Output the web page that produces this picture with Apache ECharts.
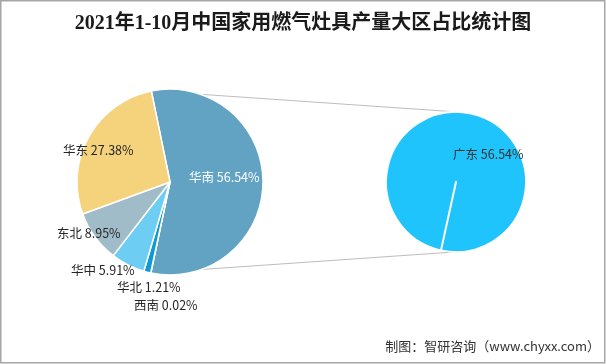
<!DOCTYPE html>
<html>
<head>
<meta charset="utf-8">
<script src="https://cdn.jsdelivr.net/npm/echarts@6/dist/echarts.min.js"></script>
<style>
html,body{margin:0;padding:0;background:#fff;}
#chart{width:606px;height:364px;}
</style>
</head>
<body>
<div id="chart"></div>
<script>
// ---- data ----
var titleText = '2021年1-10月中国家用燃气灶具产量大区占比统计图';
var sourceText = '制图：智研咨询（www.chyxx.com）';
var regionNames = ['华南', '西南', '华北', '华中', '东北', '华东'];
var regionValues = [56.54, 0.02, 1.21, 5.91, 8.95, 27.38];
var subNames = ['广东', '其他'];
var subValues = [56.54, 0];

// ---- styles / layout ----
var regionColors = ['#62a3c4', '#1f7fb8', '#0e9ad6', '#6dcdf2', '#a1bcc9', '#f5d27c'];
var subColors = ['#20c4fd', '#20c4fd'];
var leftCenter = [170, 182], leftR = 93;
var rightCenter = [456, 182], rightR = 70;
var leftStart = 101.6;
var rightStart = 257.6;
// label anchor points (left-aligned, vertically centred)
var leftLabelPos = [[189, 177], [134, 305], [117, 287], [71, 270], [57, 233], [63, 150]];
var rightLabelPos = [[453, 154], [0, 0]];

var total = regionValues.reduce(function (a, b) { return a + b; }, 0);
var firstAngle = 360 * regionValues[0] / total;
function pt(c, r, deg) {
  var a = deg * Math.PI / 180;
  return [c[0] + r * Math.cos(a), c[1] - r * Math.sin(a)];
}
var pA = pt(leftCenter, leftR, leftStart);
var pB = pt(leftCenter, leftR, leftStart - firstAngle);
var qA = [rightCenter[0] + 2, rightCenter[1] - rightR];
var qB = [rightCenter[0] - 2, rightCenter[1] + rightR];

var fontCJK = '"Noto Sans CJK SC", "Noto Sans", sans-serif';

var chart = echarts.init(document.getElementById('chart'), null, {renderer: 'canvas'});
chart.setOption({
  backgroundColor: '#fff',
  animation: false,
  title: [{
    text: titleText,
    left: 'center',
    top: 9,
    textStyle: {fontFamily: '"Liberation Serif", "Noto Sans CJK SC", serif', fontSize: 20, fontWeight: 'bold', color: '#1a1a1a'}
  }, {
    text: sourceText,
    right: 1,
    bottom: 6,
    textStyle: {fontFamily: fontCJK, fontSize: 13, fontWeight: 'normal', color: '#333'}
  }],
  graphic: [{
    type: 'rect', z: -10, silent: true,
    shape: {x: 0.75, y: 0.75, width: 604, height: 362},
    style: {fill: 'none', stroke: '#a6a6a6', lineWidth: 1.5}
  }, {
    type: 'line', z: -5, silent: true,
    shape: {x1: pA[0], y1: pA[1], x2: qA[0], y2: qA[1]},
    style: {stroke: '#bdbdbd', lineWidth: 1}
  }, {
    type: 'line', z: -5, silent: true,
    shape: {x1: pB[0], y1: pB[1], x2: qB[0], y2: qB[1]},
    style: {stroke: '#bdbdbd', lineWidth: 1}
  }],
  series: [{
    type: 'pie',
    center: leftCenter,
    radius: leftR,
    startAngle: leftStart,
    clockwise: true,
    avoidLabelOverlap: false,
    itemStyle: {borderColor: '#fff', borderWidth: 1.5},
    label: {
      show: true,
      position: 'outside',
      formatter: function (p) { return p.name + ' ' + p.value.toFixed(2) + '%'; },
      fontFamily: fontCJK, fontSize: 12.5, color: '#262626'
    },
    labelLine: {show: false},
    labelLayout: function (p) {
      var pos = leftLabelPos[p.dataIndex];
      return {x: pos[0], y: pos[1], align: 'left', verticalAlign: 'middle'};
    },
    data: regionNames.map(function (n, i) {
      var d = {name: n, value: regionValues[i], itemStyle: {color: regionColors[i]}};
      if (i === 0) d.label = {color: '#fff'};
      return d;
    })
  }, {
    type: 'pie',
    center: rightCenter,
    radius: rightR,
    startAngle: rightStart,
    clockwise: true,
    avoidLabelOverlap: false,
    itemStyle: {borderColor: '#fff', borderWidth: 2},
    label: {
      show: true,
      position: 'outside',
      formatter: function (p) { return p.name + ' ' + p.value.toFixed(2) + '%'; },
      fontFamily: fontCJK, fontSize: 12.5, color: '#333'
    },
    labelLine: {show: false},
    labelLayout: function (p) {
      var pos = rightLabelPos[p.dataIndex];
      return {x: pos[0], y: pos[1], align: 'left', verticalAlign: 'middle'};
    },
    data: subNames.map(function (n, i) {
      var d = {name: n, value: subValues[i], itemStyle: {color: subColors[i]}};
      if (subValues[i] === 0) d.label = {show: false};
      return d;
    })
  }]
});
</script>
</body>
</html>
